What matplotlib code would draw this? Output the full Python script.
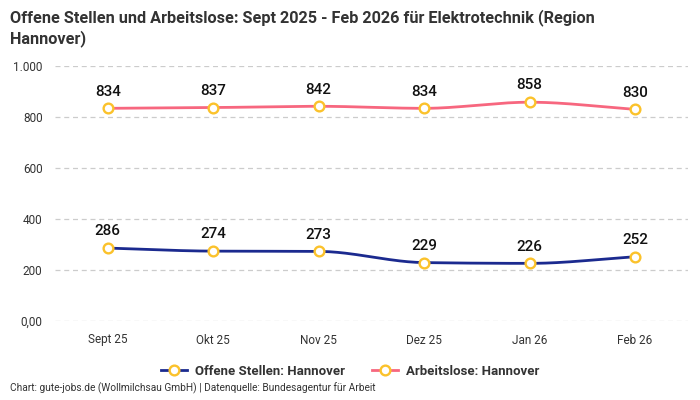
import matplotlib
matplotlib.use("Agg")
import matplotlib.pyplot as plt
from matplotlib.ticker import FuncFormatter
from matplotlib.lines import Line2D
import numpy as np

# data
months = ["Sept 25", "Okt 25", "Nov 25", "Dez 25", "Jan 26", "Feb 26"]
offene_stellen = [286, 274, 273, 229, 226, 252]
arbeitslose = [834, 837, 842, 834, 858, 830]

BLUE = "#1b2a8f"
PINK = "#f7677f"
YELLOW = "#fbc22b"
FONT = ["Roboto", "DejaVu Sans"]


def pchip(x, y, n=40):
    # monotone cubic curve through the points (only for drawing the line)
    x = np.asarray(x, float)
    y = np.asarray(y, float)
    h = np.diff(x)
    d = np.diff(y) / h
    m = np.zeros_like(y)
    for i in range(1, len(y) - 1):
        if d[i - 1] * d[i] > 0:
            w1 = 2 * h[i] + h[i - 1]
            w2 = h[i] + 2 * h[i - 1]
            m[i] = (w1 + w2) / (w1 / d[i - 1] + w2 / d[i])
    m[0] = d[0]
    m[-1] = d[-1]
    xs, ys = [], []
    for i in range(len(x) - 1):
        t = np.linspace(0, 1, n)
        h00 = 2 * t**3 - 3 * t**2 + 1
        h10 = t**3 - 2 * t**2 + t
        h01 = -2 * t**3 + 3 * t**2
        h11 = t**3 - t**2
        xs.append(x[i] + t * h[i])
        ys.append(h00 * y[i] + h10 * h[i] * m[i] + h01 * y[i + 1] + h11 * h[i] * m[i + 1])
    return np.concatenate(xs), np.concatenate(ys)


fig = plt.figure(figsize=(7, 4), dpi=100)
ax = fig.add_axes([0.0786, 0.1975, 0.904, 0.6375])

x = np.arange(len(months))
for vals, col in [(offene_stellen, BLUE), (arbeitslose, PINK)]:
    sx, sy = pchip(x, vals)
    ax.plot(sx, sy, color=col, lw=2, zorder=3)
    ax.plot(x, vals, ls="none", marker="o", ms=7, mfc="white", mec=YELLOW, mew=1.7, zorder=4)
    for xi, v in zip(x, vals):
        ax.annotate(str(v), (xi, v), xytext=(0, 7), textcoords="offset points",
                    ha="center", va="bottom", fontsize=11, color="#111111",
                    family=FONT, fontweight="medium")

ax.set_xlim(-0.5, 5.5)
ax.set_ylim(0, 1000)
ax.set_yticks(range(0, 1001, 200))
ax.yaxis.set_major_formatter(FuncFormatter(
    lambda v, p: "0,00" if v == 0 else f"{int(v):,}".replace(",", ".")))
ax.set_xticks(x)
ax.set_xticklabels(months)
ax.tick_params(length=0, labelsize=8.5, colors="#333333", pad=9)
for lab in ax.get_xticklabels() + ax.get_yticklabels():
    lab.set_family(FONT)
ax.grid(axis="y", color="#cccccc", ls=(0, (4, 3)), lw=0.9)
for s in ax.spines.values():
    s.set_visible(False)

fig.text(0.014, 0.978, "Offene Stellen und Arbeitslose: Sept 2025 - Feb 2026 für Elektrotechnik (Region\nHannover)",
         ha="left", va="top", fontsize=11.7, fontweight="bold", color="#333333",
         family=FONT, linespacing=1.35)

handles = [
    Line2D([], [], color=BLUE, lw=2, marker="o", ms=7, mfc="white", mec=YELLOW, mew=1.7),
    Line2D([], [], color=PINK, lw=2, marker="o", ms=7, mfc="white", mec=YELLOW, mew=1.7),
]
fig.legend(handles, ["Offene Stellen: Hannover", "Arbeitslose: Hannover"],
           loc="center", bbox_to_anchor=(0.5, 0.072), ncol=2, frameon=False,
           handlelength=2.0, columnspacing=2.0, handletextpad=0.6,
           prop={"family": FONT, "weight": "bold", "size": 9.5})
for t in fig.legends[0].get_texts():
    t.set_color("#333333")

fig.text(0.014, 0.015, "Chart: gute-jobs.de (Wollmilchsau GmbH) | Datenquelle: Bundesagentur für Arbeit",
         ha="left", va="bottom", fontsize=7.3, color="#333333", family=FONT)

fig.savefig("out.png", dpi=100)
